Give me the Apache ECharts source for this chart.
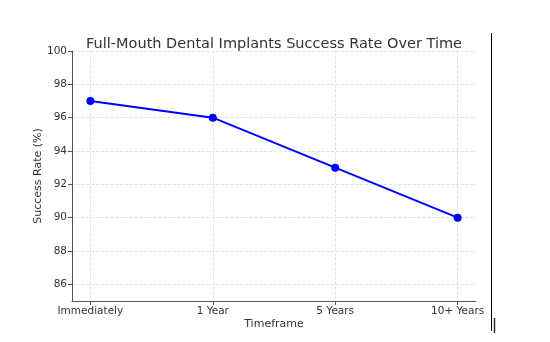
<!DOCTYPE html>
<html><head><meta charset="utf-8">
<script src="https://cdn.jsdelivr.net/npm/echarts@6/dist/echarts.min.js"></script>
<style>html,body{margin:0;padding:0;background:#fff}#c{width:550px;height:342px}</style>
</head><body><div id="c"></div>
<script>
const categories = ["Immediately", "1 Year", "5 Years", "10+ Years"];
const successRate = [97, 96, 93, 90];
const yTicks = [86, 88, 90, 92, 94, 96, 98, 100];

const chart = echarts.init(document.getElementById('c'));
const font = 'DejaVu Sans';
chart.setOption({
  animation: false,
  title: {
    text: 'Full-Mouth Dental Implants Success Rate Over Time',
    left: 269, top: 32, textAlign: 'center',
    textStyle: {fontFamily: font, fontSize: 14.5, fontWeight: 'normal', color: '#333'}
  },
  grid: {left: 72, right: 74, top: 51, bottom: 41},
  xAxis: {
    type: 'value', min: -0.15, max: 3.15,
    name: 'Timeframe', nameLocation: 'middle', nameGap: 18, nameMoveOverlap: false,
    nameTextStyle: {fontFamily: font, fontSize: 11, color: '#333'},
    axisLine: {onZero: false, lineStyle: {color: '#555', width: 1}},
    axisTick: {show: true, inside: false, length: 4, customValues: [0,1,2,3], lineStyle: {color: '#555'}},
    axisLabel: {customValues: [0,1,2,3], fontFamily: font, fontSize: 10.5, color: '#333', margin: 5,
      formatter: v => categories[Math.round(v)]},
    splitLine: {show: true, lineStyle: {color: '#ddd', type: 'dashed', width: 0.8}}
  },
  yAxis: {
    type: 'value', min: 85, max: 100,
    name: 'Success Rate (%)', nameLocation: 'middle', nameGap: 28, nameMoveOverlap: false,
    nameTextStyle: {fontFamily: font, fontSize: 11, color: '#333'},
    axisLine: {show: true, onZero: false, lineStyle: {color: '#555', width: 1}},
    axisTick: {show: true, length: 4, customValues: yTicks, lineStyle: {color: '#555'}},
    axisLabel: {customValues: yTicks, fontFamily: font, fontSize: 10.5, color: '#333', margin: 5},
    splitLine: {show: true, lineStyle: {color: '#ddd', type: 'dashed', width: 0.8}}
  },
  series: [{
    type: 'line',
    data: successRate.map((v, i) => [i, v]),
    symbol: 'circle', symbolSize: 8,
    lineStyle: {color: '#0000ff', width: 2},
    itemStyle: {color: '#0000ff'}
  }],
  graphic: [
    {type: 'line', shape: {x1: 491.5, y1: 33, x2: 491.5, y2: 331}, style: {stroke: '#000', lineWidth: 1}},
    {type: 'line', shape: {x1: 494.5, y1: 318, x2: 494.5, y2: 333}, style: {stroke: '#333', lineWidth: 1.5}}
  ]
});
</script></body></html>
